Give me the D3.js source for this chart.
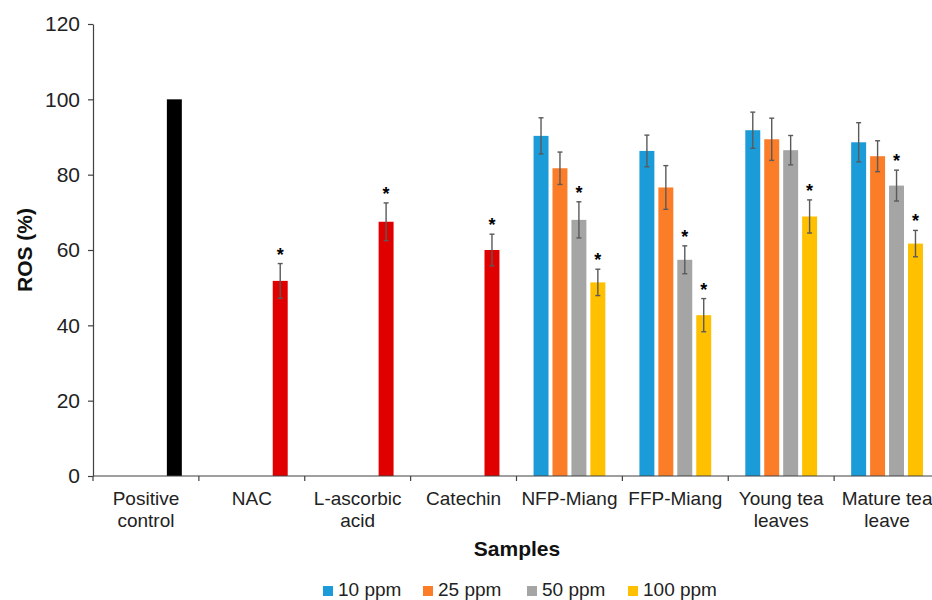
<!DOCTYPE html>
<html>
<head>
<meta charset="utf-8">
<script src="https://cdn.jsdelivr.net/npm/d3@7"></script>
<style>
  body { margin: 0; background: #fff; }
  svg { font-family: "Liberation Sans", Arial, sans-serif; }
</style>
</head>
<body>
<svg id="chart" width="932" height="600"></svg>
<script>
// categories on the x axis
const categories = ["Positive control", "NAC", "L-ascorbic acid", "Catechin",
  "NFP-Miang", "FFP-Miang", "Young tea leaves", "Mature tea leave"];
const tickLines = [["Positive", "control"], ["NAC"], ["L-ascorbic", "acid"], ["Catechin"],
  ["NFP-Miang"], ["FFP-Miang"], ["Young tea", "leaves"], ["Mature tea", "leave"]];

// single bars (control + standards)
const singleCats = ["Positive control", "NAC", "L-ascorbic acid", "Catechin"];
const singleValues = [100, 51.8, 67.5, 60.0];
const singleErrors = [0, 4.6, 5.0, 4.2];
const singleStars = [false, true, true, true];

// extracts, by concentration
const seriesNames = ["10 ppm", "25 ppm", "50 ppm", "100 ppm"];
const extractCats = ["NFP-Miang", "FFP-Miang", "Young tea leaves", "Mature tea leave"];
const ppm10 = [90.3, 86.3, 91.8, 88.6];
const ppm25 = [81.7, 76.6, 89.4, 84.9];
const ppm50 = [68.0, 57.4, 86.5, 77.1];
const ppm100 = [51.4, 42.7, 68.9, 61.7];
const err10 = [4.8, 4.2, 4.8, 5.2];
const err25 = [4.3, 5.8, 5.6, 4.1];
const err50 = [4.8, 3.7, 3.9, 4.1];
const err100 = [3.5, 4.4, 4.4, 3.5];
const star10 = [false, false, false, false];
const star25 = [false, false, false, false];
const star50 = [true, true, false, true];
const star100 = [true, true, true, true];

const yTicks = [0, 20, 40, 60, 80, 100, 120];

const seriesColors = ["#1b9cd8", "#fc7d28", "#a5a5a5", "#ffc000"];
const singleColors = ["#000000", "#e00000", "#e00000", "#e00000"];

const svg = d3.select("#chart");
const plotLeft = 93, plotRight = 940, plotTop = 24, plotBottom = 476;

const x0 = d3.scaleBand().domain(categories).range([plotLeft, plotRight]).padding(0);
const x1 = d3.scaleBand().domain(seriesNames).range([0, x0.bandwidth()])
  .paddingInner(0.21).paddingOuter(0.9);
const y = d3.scaleLinear().domain([0, 120]).range([plotBottom, plotTop]);

// build bar records
let bars = [];
singleCats.forEach((c, i) => {
  bars.push({cat: c, slot: seriesNames[3], value: singleValues[i], err: singleErrors[i],
    star: singleStars[i], color: singleColors[i]});
});
const seriesVals = [ppm10, ppm25, ppm50, ppm100];
const seriesErrs = [err10, err25, err50, err100];
const seriesStars = [star10, star25, star50, star100];
seriesNames.forEach((s, si) => {
  extractCats.forEach((c, ci) => {
    bars.push({cat: c, slot: s, value: seriesVals[si][ci], err: seriesErrs[si][ci],
      star: seriesStars[si][ci], color: seriesColors[si]});
  });
});

const barX = d => x0(d.cat) + x1(d.slot);
const bw = x1.bandwidth();

svg.append("g").selectAll("rect").data(bars).enter().append("rect")
  .attr("x", barX)
  .attr("y", d => y(d.value))
  .attr("width", bw)
  .attr("height", d => y(0) - y(d.value))
  .attr("fill", d => d.color);

// error bars
const errBars = bars.filter(d => d.err > 0);
const eg = svg.append("g").attr("stroke", "#5a5a5a").attr("stroke-width", 1.4);
errBars.forEach(d => {
  const cx = barX(d) + bw / 2;
  eg.append("line").attr("x1", cx).attr("x2", cx)
    .attr("y1", y(d.value + d.err)).attr("y2", y(d.value - d.err));
  [d.value + d.err, d.value - d.err].forEach(v => {
    eg.append("line").attr("x1", cx - 2.5).attr("x2", cx + 2.5)
      .attr("y1", y(v)).attr("y2", y(v));
  });
});

// significance stars
svg.append("g").selectAll("text").data(bars.filter(d => d.star)).enter().append("text")
  .attr("x", d => barX(d) + bw / 2)
  .attr("y", d => y(d.value + d.err) - 3)
  .attr("text-anchor", "middle")
  .attr("font-size", 18)
  .attr("font-weight", "bold")
  .attr("fill", "#000")
  .text("*");

// y axis
const yAxis = svg.append("g").attr("transform", `translate(${plotLeft},0)`)
  .call(d3.axisLeft(y).tickValues(yTicks).tickSize(5).tickSizeOuter(0).tickPadding(8));
yAxis.select(".domain").attr("stroke", "#404040").attr("stroke-width", 1.2);
yAxis.selectAll(".tick line").attr("stroke", "#404040").attr("stroke-width", 1.2);
yAxis.selectAll(".tick text").attr("font-size", 21).attr("fill", "#222")
  .attr("font-family", "Liberation Sans, Arial, sans-serif");

// x axis
const xg = svg.append("g").attr("transform", `translate(0,${plotBottom})`);
xg.append("line").attr("x1", plotLeft).attr("x2", plotRight).attr("y1", 0).attr("y2", 0)
  .attr("stroke", "#404040").attr("stroke-width", 1.2);
categories.forEach((c, i) => {
  xg.append("line").attr("x1", x0(c)).attr("x2", x0(c)).attr("y1", 0).attr("y2", 5)
    .attr("stroke", "#404040").attr("stroke-width", 1.2);
  const t = xg.append("text").attr("text-anchor", "middle").attr("font-size", 19).attr("fill", "#222");
  tickLines[i].forEach((line, li) => {
    t.append("tspan").attr("x", x0(c) + x0.bandwidth() / 2).attr("y", 29 + li * 22).text(line);
  });
});

// axis titles
svg.append("text").attr("x", 517).attr("y", 556).attr("text-anchor", "middle")
  .attr("font-size", 21).attr("font-weight", "bold").attr("fill", "#111").text("Samples");
svg.append("text").attr("transform", "translate(32,250) rotate(-90)").attr("text-anchor", "middle")
  .attr("font-size", 21).attr("font-weight", "bold").attr("fill", "#111").text("ROS (%)");

// legend
const legendX = [323, 423, 527, 628];
const lg = svg.append("g");
seriesNames.forEach((s, i) => {
  lg.append("rect").attr("x", legendX[i]).attr("y", 586).attr("width", 10).attr("height", 10)
    .attr("fill", seriesColors[i]);
  lg.append("text").attr("x", legendX[i] + 15).attr("y", 595.5).attr("font-size", 19)
    .attr("fill", "#222").text(s);
});
</script>
</body>
</html>
